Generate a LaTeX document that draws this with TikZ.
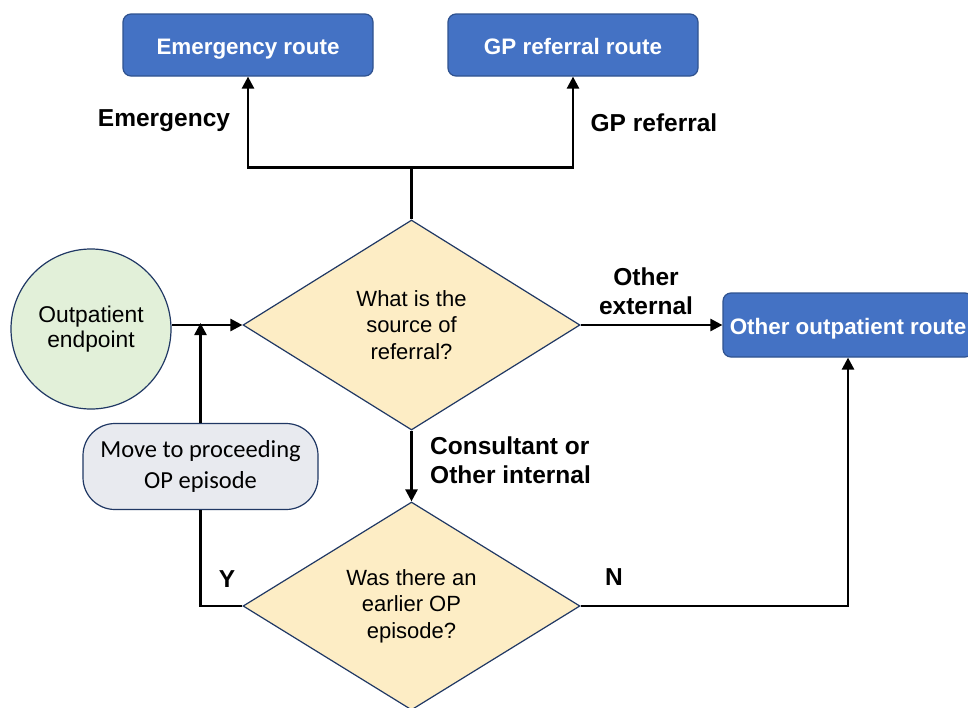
\documentclass[tikz,border=0pt]{standalone}
\usepackage{fontspec}
\setmainfont{Liberation Sans}
\newfontfamily\calibfont{Carlito}
\usetikzlibrary{shapes.geometric,arrows.meta}
\definecolor{boxblue}{HTML}{4472C4}
\definecolor{boxedge}{HTML}{2F528F}
\definecolor{navy}{HTML}{203864}
\definecolor{dfill}{HTML}{FDEDC5}
\definecolor{cfill}{HTML}{E2F0D9}
\definecolor{mfill}{HTML}{E8EAEF}
\tikzset{
  routebox/.style={rectangle, rounded corners=8pt, fill=boxblue, draw=boxedge, line width=1.2pt,
    text=white, font=\bfseries\fontsize{22.4}{26}\selectfont, minimum width=250pt, minimum height=62pt,
    inner sep=2pt, text height=22pt, text depth=4pt},
  decision/.style={diamond, fill=dfill, draw=navy, line width=1.2pt, minimum width=337pt, minimum height=210pt,
    inner sep=0pt, align=center, font=\fontsize{22}{26.5}\selectfont},
  startcirc/.style={circle, fill=cfill, draw=navy, line width=1.2pt, minimum size=160pt, inner sep=0pt,
    align=center, font=\fontsize{22.8}{25}\selectfont},
  movebox/.style={rectangle, rounded corners=32pt, fill=mfill, draw=navy, line width=1.2pt,
    minimum width=235pt, minimum height=86pt, align=center, font=\calibfont\fontsize{24.5}{31}\selectfont},
  lbl/.style={font=\bfseries\fontsize{24.5}{29}\selectfont, inner sep=0pt},
  conn/.style={line width=2.5pt, draw=black},
  arr/.style={conn, -{Triangle[length=12pt,width=12pt]}},
}
\begin{document}
\begin{tikzpicture}[x=1pt,y=-1pt]
\useasboundingbox (0,0) rectangle (968,707);
\fill[white] (0,0) rectangle (968,707);

\node[routebox] (emerg) at (248,45) {Emergency route};
\node[routebox] (gp) at (573,45) {GP referral route};
\node[routebox, minimum height=64pt] (other) at (848,325) {Other outpatient route};

\node[decision] (d1) at (411.5,325) {What is the\\source of\\referral?};
\node[decision, minimum height=208pt] (d2) at (411.5,606) {Was there an\\earlier OP\\episode?};

\node[startcirc] (circ) at (91,329) {Outpatient\\endpoint};
\node[movebox] (move) at (200.5,466.5) {Move to proceeding\\OP episode};

% connectors
\draw[conn] (d1.north) -- ++(0,-52) coordinate (j);
\draw[arr] (j) -| (emerg.south);
\draw[arr] (j) -| (gp.south);
\draw[arr] (circ.east |- d1.west) -- (d1.west);
\coordinate (mj) at (move.north |- d1.west);
\draw[arr] (move.north) -- ([yshift=2pt]mj);
\draw[conn] (move.south) |- (d2.west);
\draw[arr] (d1.east) -- (other.west |- d1.east);
\draw[arr] (d1.south) -- (d2.north);
\draw[arr] (d2.east) -| (other.south);

% labels
\node[lbl] (lEm) at (164,121) {Emergency};
\node[lbl] (lGP) at (654,123) {GP referral};
\node[lbl, align=center] (lOE) at (646,291) {Other\\external};
\node[lbl, align=left, anchor=west] (lCI) at (430,460) {Consultant or\\Other internal};
\node[lbl] (lY) at (227,579) {Y};
\node[lbl] (lN) at (614,577) {N};
\end{tikzpicture}
\end{document}
